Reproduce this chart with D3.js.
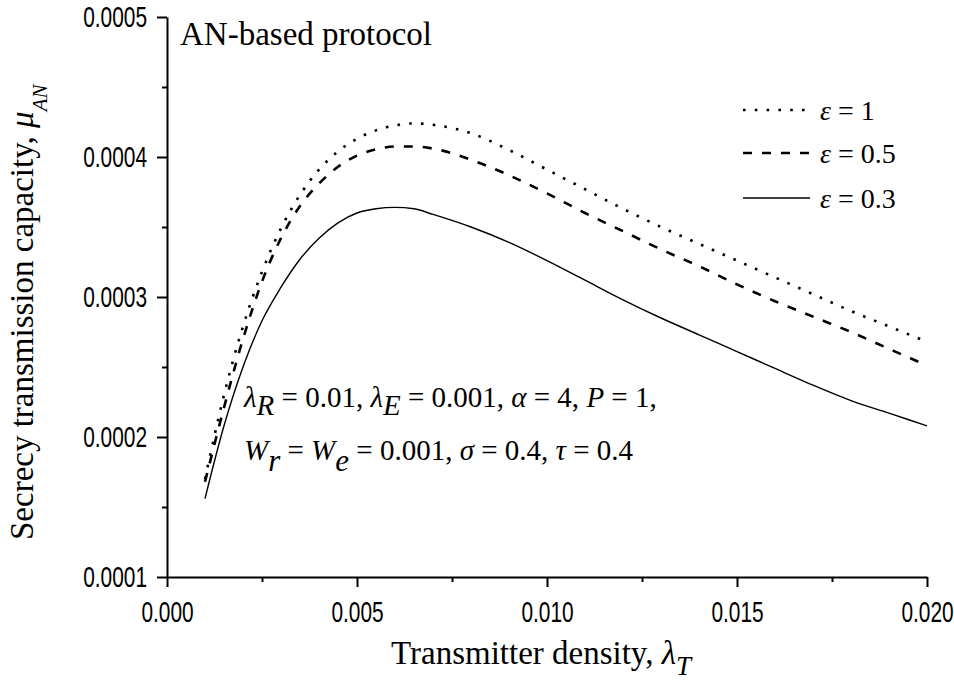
<!DOCTYPE html>
<html>
<head>
<meta charset="utf-8">
<script src="https://cdn.jsdelivr.net/npm/d3@7"></script>
<style>
	body { margin: 0; background: #fff; }
	svg { display: block; }
	.axis path, .axis line { stroke: #000; stroke-width: 2; }
	.axis text { font-family: "Liberation Sans", Arial, sans-serif; font-size: 29px; fill: #000; }
	.serif { font-family: "Liberation Serif", "Times New Roman", serif; fill: #000; white-space: pre; }
</style>
</head>
<body>
<div id="chart"></div>
<script>
'use strict';

// transmitter density (x)
var density = [0.001, 0.0015, 0.002, 0.0025, 0.003, 0.0035, 0.004, 0.0045, 0.005, 0.0055,
	0.006, 0.0065, 0.007, 0.008, 0.009, 0.010, 0.011, 0.012, 0.013, 0.014,
	0.015, 0.016, 0.017, 0.018, 0.019, 0.020];

// secrecy transmission capacity for each epsilon
var capEps1 = [0.000170, 0.000230, 0.000279, 0.000318, 0.000349, 0.000373, 0.000391, 0.000404, 0.000413, 0.000419,
	0.0004225, 0.000424, 0.000423, 0.000417, 0.000405, 0.000391, 0.000377, 0.000363, 0.000350, 0.000338,
	0.000326, 0.000314, 0.000302, 0.000290, 0.000279, 0.000268];
var capEps05 = [0.000168, 0.000221, 0.000270, 0.000311, 0.000342, 0.000365, 0.000381, 0.000393, 0.000401, 0.0004055,
	0.0004075, 0.0004075, 0.000406, 0.000398, 0.000387, 0.000374, 0.000360, 0.000347, 0.000334, 0.000322,
	0.000309, 0.000297, 0.000286, 0.000275, 0.000263, 0.000251];
var capEps03 = [0.000156, 0.000208, 0.000250, 0.000283, 0.000307, 0.000327, 0.000342, 0.000353, 0.000360, 0.000363,
	0.000364, 0.000363, 0.000359, 0.000350, 0.000339, 0.000326, 0.000312, 0.000298, 0.000285, 0.000273,
	0.000261, 0.000249, 0.000237, 0.000226, 0.000217, 0.000208];

var seriesNames = ['1', '0.5', '0.3'];
var xTicks = [0, 0.005, 0.010, 0.015, 0.020];
var xMinorTicks = [0.0025, 0.0075, 0.0125, 0.0175];
var yTicks = [0.0001, 0.0002, 0.0003, 0.0004, 0.0005];
var yMinorTicks = [0.00015, 0.00025, 0.00035, 0.00045];

var width = 954, height = 680;
var margin = { top: 17, right: 27, bottom: 103, left: 167 };
var plotW = width - margin.left - margin.right,
	plotH = height - margin.top - margin.bottom;

var svg = d3.select('#chart').append('svg')
	.attr('width', width)
	.attr('height', height);

var g = svg.append('g')
	.attr('transform', 'translate(' + margin.left + ',' + margin.top + ')');

var x = d3.scaleLinear().domain([0, 0.02]).range([0, plotW]);
var y = d3.scaleLinear().domain([0.0001, 0.0005]).range([plotH, 0]);

// narrow sans tick labels, squeeze horizontally
var squeeze = 0.72;

// x axis, major then minor
var axX = g.append('g').attr('class', 'x axis')
	.attr('transform', 'translate(0,' + plotH + ')')
	.call(d3.axisBottom(x).tickValues(xTicks).tickFormat(d3.format('.3f'))
		.tickSize(10).tickSizeOuter(0).tickPadding(14));
axX.selectAll('.tick text').attr('transform', 'scale(' + squeeze + ',1)');

g.append('g').attr('class', 'x axis minor')
	.attr('transform', 'translate(0,' + plotH + ')')
	.call(d3.axisBottom(x).tickValues(xMinorTicks).tickFormat('').tickSize(5).tickSizeOuter(0))
	.select('.domain').remove();

// y axis
var axY = g.append('g').attr('class', 'y axis')
	.call(d3.axisLeft(y).tickValues(yTicks).tickFormat(d3.format('.4f'))
		.tickSize(10).tickSizeOuter(0).tickPadding(10));
axY.selectAll('.tick text')
	.attr('x', -20 / squeeze)
	.attr('transform', 'scale(' + squeeze + ',1)');

g.append('g').attr('class', 'y axis minor')
	.call(d3.axisLeft(y).tickValues(yMinorTicks).tickFormat('').tickSize(5).tickSizeOuter(0))
	.select('.domain').remove();

// the curves
var allSeries = [capEps1, capEps05, capEps03];
var strokes = [
	{ dash: '2.6,9.2', w: 2.6 },
	{ dash: '9,10', w: 2.6 },
	{ dash: null, w: 1.4 }
];

var line = d3.line()
	.curve(d3.curveMonotoneX)
	.x(function (d, i) { return x(density[i]); })
	.y(function (d) { return y(d); });

allSeries.forEach(function (vals, k) {
	g.append('path')
		.datum(vals)
		.attr('fill', 'none')
		.attr('stroke', '#000')
		.attr('stroke-width', strokes[k].w)
		.attr('stroke-dasharray', strokes[k].dash)
		.attr('d', line);
});

// helper for text with italic and subscript bits
// parts: [text, italic, dy, fontSize]
function richText(parent, px, py, size, parts, rotate) {
	var t = parent.append('text')
		.attr('class', 'serif')
		.attr('font-size', size);
	if (rotate) {
		t.attr('transform', 'translate(' + px + ',' + py + ') rotate(-90)');
	} else {
		t.attr('x', px).attr('y', py);
	}
	var shift = 0;
	parts.forEach(function (p) {
		var dy = (p[2] || 0) - shift;
		shift = p[2] || 0;
		t.append('tspan')
			.attr('dy', dy)
			.attr('font-style', p[1] ? 'italic' : 'normal')
			.attr('font-size', p[3] || size)
			.text(p[0]);
	});
	return t;
}

// legend
var legendY = [110, 153, 198];
seriesNames.forEach(function (name, k) {
	svg.append('line')
		.attr('x1', 743).attr('x2', 810)
		.attr('y1', legendY[k]).attr('y2', legendY[k])
		.attr('stroke', '#000')
		.attr('stroke-width', strokes[k].w)
		.attr('stroke-dasharray', strokes[k].dash);
	richText(svg, 820, legendY[k] + 10, 28, [['\u03b5', true], [' = ' + name, false]]);
});

// titles
richText(svg, 180, 45, 33, [['AN-based protocol', false]]);

richText(svg, 391, 664, 33, [
	['Transmitter density, ', false],
	['\u03bb', true],
	['T', true, 11, 27]
]);

richText(svg, 33, 540, 33, [
	['Secrecy transmission capacity, ', false],
	['\u03bc', true],
	['AN', true, 14, 21]
], true);

// parameter annotation
richText(svg, 244, 407, 29, [
	['\u03bb', true], ['R', true, 8, 29], [' = 0.01, ', false],
	['\u03bb', true], ['E', true, 8, 29], [' = 0.001, ', false],
	['\u03b1', true], [' = 4, ', false],
	['P', true], [' = 1,', false]
]);
richText(svg, 244, 460, 29, [
	['W', true], ['r', true, 11, 31], [' = ', false],
	['W', true], ['e', true, 11, 31], [' = 0.001, ', false],
	['\u03c3', true], [' = 0.4, ', false],
	['\u03c4', true], [' = 0.4', false]
]);
</script>
</body>
</html>
